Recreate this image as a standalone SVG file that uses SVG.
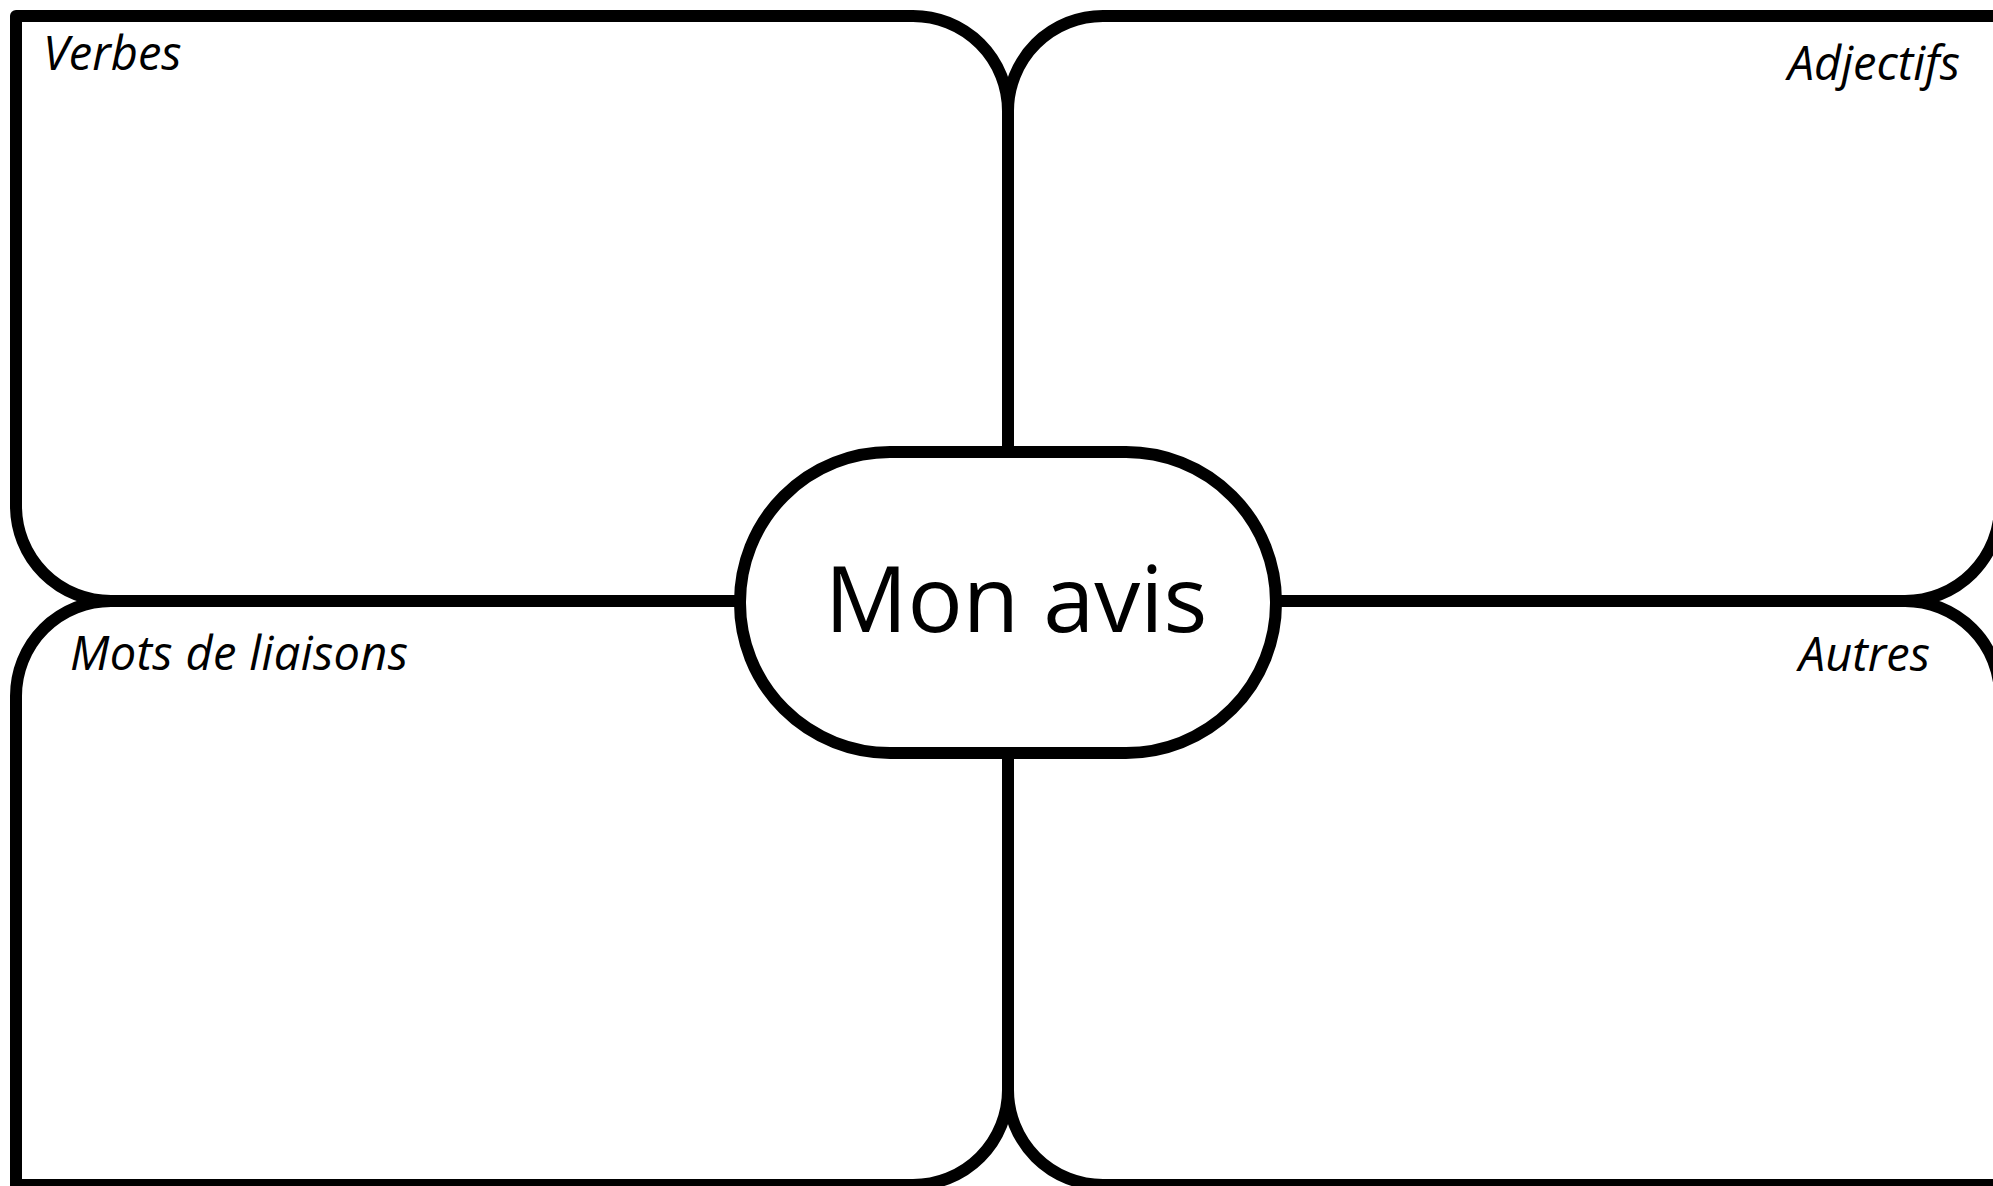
<svg xmlns="http://www.w3.org/2000/svg" width="1993" height="1186" viewBox="0 0 1993 1186">
<style>
.box{fill:none;stroke:#000;stroke-width:12;stroke-linejoin:round}
.conn{fill:none;stroke:#000;stroke-width:12}
.hub{fill:#fff;stroke:#000;stroke-width:12}
.lbl{font-family:"Open Sans","Liberation Sans",sans-serif;font-style:italic;font-size:47px;fill:#000}
.title{font-family:"Open Sans","Liberation Sans",sans-serif;font-size:92px;fill:#000}
</style>
<rect x="0" y="0" width="1993" height="1186" fill="#fff"/>
<g id="box-verbes">
<path class="box" d="M16,16 H913 A95,95 0 0 1 1008,111 V601 H111 A95,95 0 0 1 16,506 Z"/>
<text class="lbl" x="43" y="70">Verbes</text>
</g>
<g id="box-adjectifs">
<path class="box" d="M1008,111 A95,95 0 0 1 1103,16 H2000 V506 A95,95 0 0 1 1905,601 H1008 Z"/>
<text class="lbl" x="1960" y="80" text-anchor="end">Adjectifs</text>
</g>
<g id="box-mots">
<path class="box" d="M16,696 A95,95 0 0 1 111,601 H1008 V1090 A95,95 0 0 1 913,1185 H16 Z"/>
<text class="lbl" x="70" y="670" textLength="338" lengthAdjust="spacing">Mots de liaisons</text>
</g>
<g id="box-autres">
<path class="box" d="M1008,601 H1905 A95,95 0 0 1 2000,696 V1185 H1103 A95,95 0 0 1 1008,1090 Z"/>
<text class="lbl" x="1930" y="671" text-anchor="end">Autres</text>
</g>
<g id="connectors">
<line class="conn" x1="1008" y1="111" x2="1008" y2="452"/>
<line class="conn" x1="1008" y1="753" x2="1008" y2="1090"/>
<line class="conn" x1="111" y1="601" x2="740" y2="601"/>
<line class="conn" x1="1276" y1="601" x2="1905" y2="601"/>
</g>
<g id="hub">
<rect class="hub" x="740" y="452" width="536" height="301" rx="150" ry="150"/>
<text class="title" x="1016" y="632" text-anchor="middle">Mon avis</text>
</g>
</svg>
